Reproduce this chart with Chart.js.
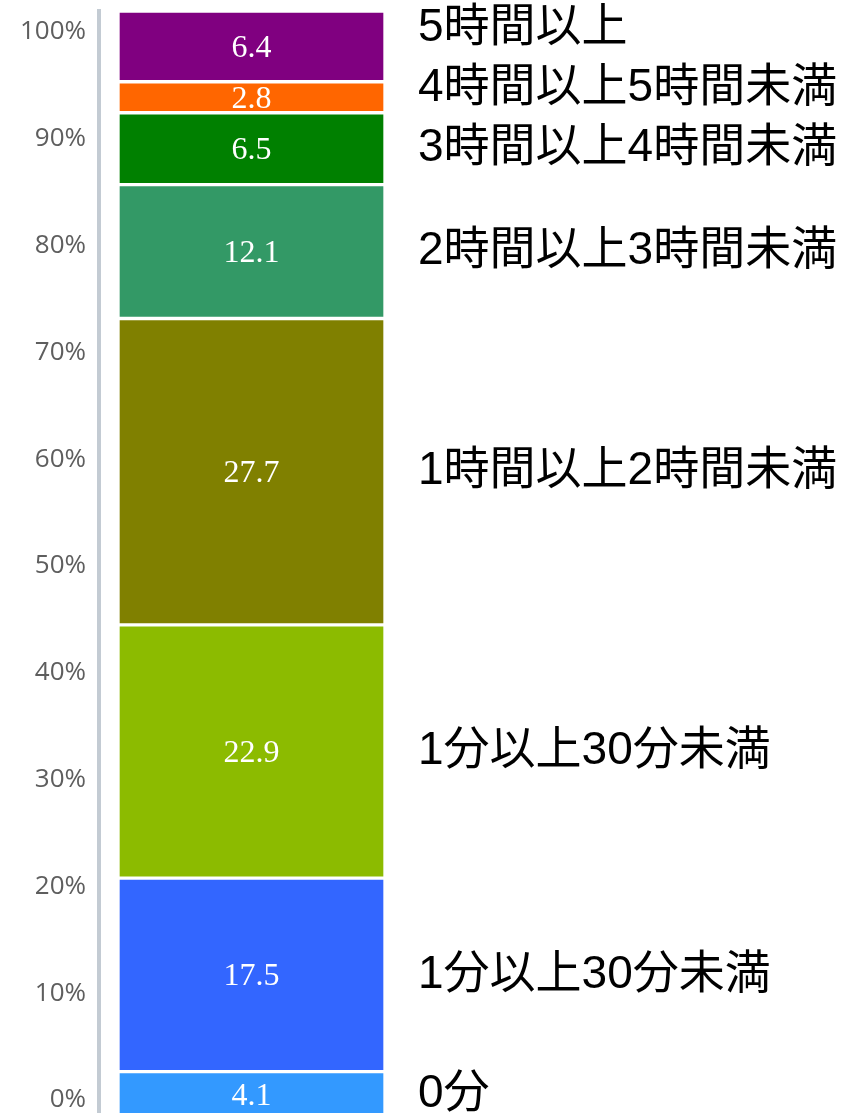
<!DOCTYPE html>
<html>
<head>
<meta charset="utf-8">
<script src="https://cdn.jsdelivr.net/npm/chart.js@4/dist/chart.umd.min.js"></script>
<style>
  html, body { margin: 0; padding: 0; background: #fff; overflow: hidden; }
  #wrap { width: 857px; height: 1120px; }
</style>
</head>
<body>
<div id="wrap"><canvas id="c"></canvas></div>
<script>
// categories, bottom to top
const categories = ['0分', '1分以上30分未満', '1分以上30分未満', '1時間以上2時間未満',
  '2時間以上3時間未満', '3時間以上4時間未満', '4時間以上5時間未満', '5時間以上'];
const shares = [4.1, 17.5, 22.9, 27.7, 12.1, 6.5, 2.8, 6.4];
const colors = ['#3399ff', '#3366ff', '#8cbb00', '#808000', '#339966', '#008000', '#ff6600', '#800080'];
const yTicks = [0, 10, 20, 30, 40, 50, 60, 70, 80, 90, 100];

const datasets = categories.map((name, i) => ({
  label: name,
  data: [shares[i]],
  backgroundColor: colors[i],
  borderColor: '#ffffff',
  borderWidth: 2,
  borderSkipped: false,
  barThickness: 267,
  yAxisID: 'yBar',
  stack: 's'
}));

// value labels inside segments + category names on the right
const labelPlugin = {
  id: 'labels',
  afterDatasetsDraw(chart) {
    const ctx = chart.ctx;
    const centers = [];
    ctx.save();
    ctx.textAlign = 'center';
    ctx.textBaseline = 'middle';
    ctx.fillStyle = '#ffffff';
    ctx.font = '32px "Liberation Serif", "Times New Roman", serif';
    chart.data.datasets.forEach((ds, i) => {
      const el = chart.getDatasetMeta(i).data[0];
      const cy = (el.y + el.base) / 2;
      centers.push(cy);
      ctx.fillText(ds.data[0].toFixed(1), el.x, cy + 2);
    });
    // push names upward so they do not collide
    const ys = centers.slice();
    for (let i = 1; i < ys.length; i++) {
      if (ys[i] > ys[i - 1] - 60) ys[i] = ys[i - 1] - 60;
    }
    ctx.textAlign = 'left';
    ctx.fillStyle = '#000000';
    ctx.font = '46px "Liberation Sans", "Noto Sans CJK JP", sans-serif';
    chart.data.datasets.forEach((ds, i) => {
      ctx.fillText(ds.label, 418, ys[i]);
    });
    ctx.restore();
  }
};

new Chart(document.getElementById('c'), {
  type: 'bar',
  data: { labels: [''], datasets },
  options: {
    responsive: true,
    maintainAspectRatio: false,
    animation: false,
    layout: { padding: { left: 0, right: 453, top: 11, bottom: 3 } },
    plugins: { legend: { display: false }, tooltip: { enabled: false } },
    scales: {
      x: { stacked: true, display: false },
      yBar: { stacked: true, display: false, min: 0, max: 100 },
      y: {
        position: 'left',
        min: -1.59,
        max: 101.97,
        afterBuildTicks: s => { s.ticks = yTicks.map(v => ({ value: v })); },
        afterFit: s => {
          s.width = 99;
          s.paddingTop = 0;
          s.paddingBottom = 0;
        },
        grid: { display: false, drawTicks: false },
        border: { display: true, color: '#c3cbd3', width: 4 },
        ticks: {
          padding: 13,
          color: '#5e5e5e',
          font: { family: '"Open Sans", sans-serif', size: 26 },
          callback: v => v + '%'
        }
      }
    }
  },
  plugins: [labelPlugin]
});
</script>
</body>
</html>
